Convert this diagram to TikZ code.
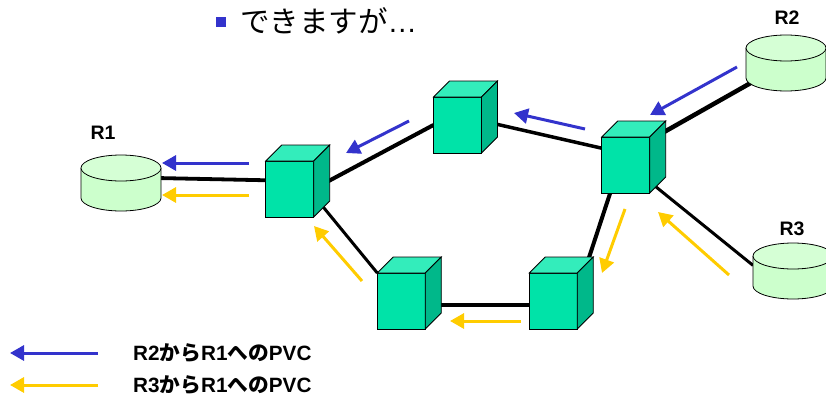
\documentclass[tikz,border=0pt]{standalone}
\usepackage{fontspec}
\setmainfont{Liberation Sans}
\newfontfamily\jpfont{Noto Sans CJK JP}
\usetikzlibrary{arrows.meta,backgrounds}

\definecolor{cubefront}{HTML}{00E3A8}
\definecolor{cubetop}{HTML}{33EDBB}
\definecolor{cubeside}{HTML}{00B88A}
\definecolor{cyltop}{HTML}{D5FFD5}
\definecolor{cylbody}{HTML}{CCFFCC}
\definecolor{pvcblue}{HTML}{3333CC}
\definecolor{pvcyellow}{HTML}{FFCC00}

\tikzset{
  cubeface/.style={draw,fill=cubefront,line width=0.8pt,inner sep=0pt,outer sep=0pt,minimum width=48pt,minimum height=56pt},
  cylbox/.style={inner sep=0pt,outer sep=0pt,minimum width=80pt,minimum height=56pt},
  blueflow/.style={draw=pvcblue,line width=3pt,-{Triangle[length=14pt,width=15pt]}},
  yellowflow/.style={draw=pvcyellow,line width=3pt,-{Triangle[length=14pt,width=15pt]}},
  rlabel/.style={font=\fontsize{19.5}{22}\selectfont\bfseries,inner sep=0pt},
  pvclabel/.style={font=\fontsize{20.7}{23}\selectfont\bfseries,anchor=west,inner sep=0pt}
}

\newcommand{\swcube}[3]{
  \node[cubeface] (#1) at (#2,#3) {};
  \draw[fill=cubetop,line width=0.8pt] (#1.north west) -- ++(16,-16) -- ++(48,0) -- ++(-16,16) -- cycle;
  \draw[fill=cubeside,line width=0.8pt] (#1.north east) -- ++(16,-16) -- ++(0,56) -- ++(-16,16) -- cycle;
}
\newcommand{\routercyl}[3]{
  \node[cylbox] (#1) at (#2,#3) {};
  \draw[fill=cylbody,line width=0.8pt] (#2-40,#3-15) -- (#2-40,#3+15) arc[start angle=180,end angle=0,x radius=40,y radius=13] -- (#2+40,#3-15);
  \draw[fill=cyltop,line width=0.8pt] (#2,#3-15) ellipse[x radius=40,y radius=13];
}

\begin{document}
\begin{tikzpicture}[x=1pt,y=-1pt]
\useasboundingbox (0,0) rectangle (826,396);

\node[fill=pvcblue,inner sep=0pt,minimum size=10pt] (bullet) at (221,22) {};
\node[font=\fontsize{29.5}{32}\selectfont,anchor=west,inner sep=0pt] (title) at (240,21) {{\jpfont できますが}…};

\routercyl{r1}{121}{183}
\routercyl{r2}{786}{63}
\routercyl{r3}{793}{271}

\node[rlabel] (lr1) at (103,133) {R1};
\node[rlabel] (lr2) at (787,18) {R2};
\node[rlabel] (lr3) at (792,229) {R3};

\swcube{swa}{289.7}{189}
\swcube{swb}{457.5}{125}
\swcube{swc}{625.7}{165}
\swcube{swd}{553.3}{301}
\swcube{swe}{401.3}{301}

\begin{pgfonlayer}{background}
\draw[line width=3.8pt] (r1.7) -- (swa.160);
\draw[line width=4pt] (swa.east) -- (swb.west);
\draw[line width=3.5pt] (swb.10) -- (swc.145);
\draw[line width=4.5pt] (swc.46) -- (r2.center);
\draw[line width=3pt] (swc.-35) -- (r3.172);
\draw[line width=3pt] (swa.-15) -- (swe.north west);
\draw[line width=3.5pt] (swe.-10) -- (swd.190);
\draw[line width=4pt] (swd.18) -- (swc.241);
\end{pgfonlayer}

% blue path
\coordinate (b1s) at (737,67);
\coordinate (b1e) at (650,115);
\coordinate (b2s) at (585,129);
\coordinate (b2e) at (514,113);
\coordinate (b3s) at (409,121);
\coordinate (b3e) at (346,153);
\coordinate (b4s) at (249,163);
\coordinate (b4e) at (162,163);
\draw[blueflow] (b1s) -- (b1e);
\draw[blueflow] (b2s) -- (b2e);
\draw[blueflow] (b3s) -- (b3e);
\draw[blueflow] (b4s) -- (b4e);

% yellow path
\coordinate (y1s) at (729,275);
\coordinate (y1e) at (658,212);
\coordinate (y2s) at (625,209);
\coordinate (y2e) at (602,273);
\coordinate (y3s) at (521,321);
\coordinate (y3e) at (450,321);
\coordinate (y4s) at (362,281);
\coordinate (y4e) at (314,226);
\coordinate (y5s) at (249,195);
\coordinate (y5e) at (162,195);
\draw[yellowflow] (y1s) -- (y1e);
\draw[yellowflow] (y2s) -- (y2e);
\draw[yellowflow] (y3s) -- (y3e);
\draw[yellowflow] (y4s) -- (y4e);
\draw[yellowflow] (y5s) -- (y5e);

% legend
\coordinate (k1s) at (98,353);
\coordinate (k1e) at (10,353);
\coordinate (k2s) at (98,385);
\coordinate (k2e) at (10,385);
\draw[blueflow] (k1s) -- (k1e);
\draw[yellowflow] (k2s) -- (k2e);
\node[pvclabel] (k1) at (133,353) {R2{\jpfont から}R1{\jpfont への}PVC};
\node[pvclabel] (k2) at (133,385) {R3{\jpfont から}R1{\jpfont への}PVC};
\end{tikzpicture}
\end{document}
